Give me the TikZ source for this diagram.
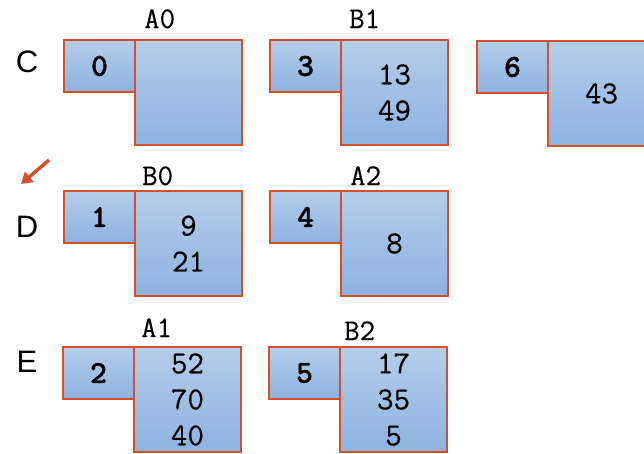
\documentclass[tikz,border=0pt]{standalone}
\usepackage{fontspec}
\newfontfamily\rowfont{Liberation Sans}
\newfontfamily\idxfont[FakeBold=1.2]{lmmonolt10-bold.otf}
\newfontfamily\valfont[FakeBold=0.4]{Latin Modern Mono}
\usetikzlibrary{positioning,arrows.meta}
\definecolor{cellTop}{HTML}{B4CDEA}
\definecolor{cellBot}{HTML}{8DB2E0}
\definecolor{cellEdge}{HTML}{D4502A}

\begin{document}
\begin{tikzpicture}[
  x=1pt, y=-1pt,
  cell/.style={draw=cellEdge, line width=1.4pt, top color=cellTop, bottom color=cellBot, inner sep=0pt, outer sep=0pt, anchor=north west},
  idx/.style={cell, minimum width=71pt, minimum height=52pt, font=\fontsize{32}{32}\selectfont\idxfont},
  vals/.style={cell, minimum width=107pt, minimum height=105pt, align=center, font=\fontsize{32}{36}\selectfont\valfont},
  tag/.style={anchor=base west, inner sep=0pt, font=\fontsize{30}{30}\selectfont\valfont},
  rowlbl/.style={inner sep=0pt, font=\fontsize{31}{31}\selectfont\rowfont},
  pointer/.style={-{Triangle[length=11pt,width=13pt]}, line width=3.5pt, cellEdge}
]
\useasboundingbox (0,0) rectangle (644,453);

% row letters
\node[rowlbl] (rc) at (27,62) {C};
\node[rowlbl] (rd) at (27,227) {D};
\node[rowlbl] (re) at (27,362) {E};

% row C
\node[idx] (i0) at (64,40) {0};
\node[vals] (a0) at (i0.north east) {};
\node[tag] (t0) at (144,28) {A0};
\node[idx] (i3) at (270,40) {3};
\node[vals] (b1) at (i3.north east) {13\\49};
\node[tag] (t3) at (349,28) {B1};
\node[idx] (i6) at (477,41) {6};
\node[vals] (c6) at (i6.north east) {43};

% row D
\node[idx] (i1) at (64,191) {1};
\node[vals] (b0) at (i1.north east) {9\\21};
\node[tag] (t1) at (142,185) {B0};
\node[idx] (i4) at (270,191) {4};
\node[vals] (a2) at (i4.north east) {8};
\node[tag] (t4) at (350,185) {A2};

% row E
\node[idx] (i2) at (63,347) {2};
\node[vals] (a1) at (i2.north east) {52\\70\\40};
\node[tag] (t2) at (141,337) {A1};
\node[idx] (i5) at (269,347) {5};
\node[vals] (b2) at (i5.north east) {17\\35\\5};
\node[tag] (t5) at (344,340) {B2};

% pointer
\coordinate (ptail) at (49,160);
\coordinate (phead) at (21,184);
\draw[pointer] (ptail) -- (phead);
\end{tikzpicture}
\end{document}
